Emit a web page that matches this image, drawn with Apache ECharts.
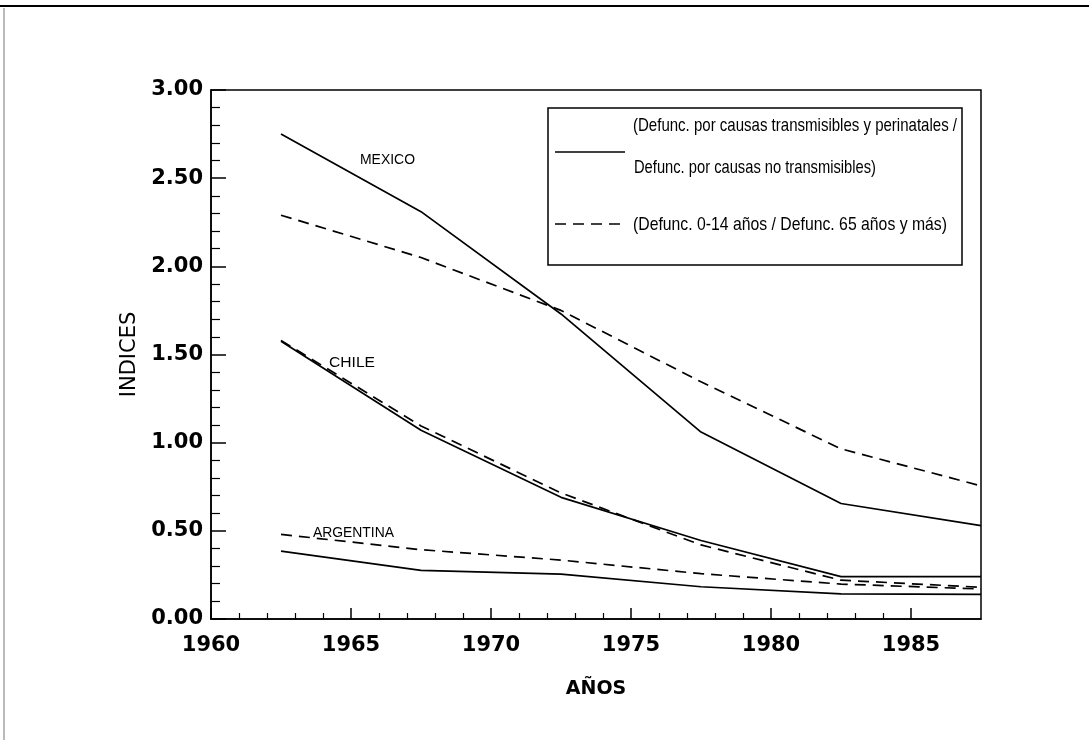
<!DOCTYPE html>
<html>
<head>
<meta charset="utf-8">
<script src="https://cdn.jsdelivr.net/npm/echarts@6/dist/echarts.min.js"></script>
<style>
  html, body { margin: 0; padding: 0; background: #fff; }
  #main { width: 1089px; height: 740px; }
</style>
</head>
<body>
<div id="main"></div>
<script>
// años de los puntos (quinquenios)
const years = [1962.5, 1967.5, 1972.5, 1977.5, 1982.5, 1987.5]

// defunc. transmisibles y perinatales / no transmisibles (linea continua)
const mexicoTransm = [2.75, 2.31, 1.73, 1.06, 0.655, 0.53]
const chileTransm = [1.575, 1.07, 0.69, 0.445, 0.24, 0.24]
const argentinaTransm = [0.385, 0.276, 0.255, 0.183, 0.143, 0.14]

// defunc. 0-14 / defunc. 65 y mas (linea discontinua)
const mexicoEdad = [2.29, 2.05, 1.75, 1.345, 0.965, 0.755]
const chileEdad = [1.58, 1.095, 0.715, 0.42, 0.22, 0.18]
const argentinaEdad = [0.48, 0.393, 0.334, 0.257, 0.198, 0.17]

const xMajorTicks = [1960, 1965, 1970, 1975, 1980, 1985]
const xMinorTicks = []
for (let y = 1961; y < 1985; y++) {
  if (y % 5 !== 0) xMinorTicks.push(y)
}
const yTickLabels = ['0.00', '0.50', '1.00', '1.50', '2.00', '2.50', '3.00']

const legendSolid = ['(Defunc. por causas transmisibles y perinatales /', 'Defunc. por causas no transmisibles)']
const legendDashed = '(Defunc. 0-14 años / Defunc. 65 años y más)'

const pairs = (vals) => years.map((y, i) => [y, vals[i]])

// medir texto para comprimirlo (la fuente original es condensada)
const ctx = document.createElement('canvas').getContext('2d')
function fitScale(str, font, width) {
  ctx.font = font
  return width / ctx.measureText(str).width
}

const legendFont = '19px "Liberation Sans", Arial, sans-serif'
const labelFont = '14px "Liberation Sans", Arial, sans-serif'

function scaledText(str, font, x, y, width) {
  return {
    type: 'text',
    x: x,
    y: y,
    scaleX: fitScale(str, font, width),
    style: {
      text: str,
      font: font,
      fill: '#000',
      verticalAlign: 'middle',
      textVerticalAlign: 'middle',
    },
  }
}

const dash = [11, 7]
function line(name, vals, dashed) {
  return {
    name: name,
    type: 'line',
    data: pairs(vals),
    showSymbol: false,
    silent: true,
    lineStyle: {
      color: '#000',
      width: 1.7,
      type: dashed ? dash : 'solid',
    },
  }
}

const myChart = echarts.init(document.getElementById('main'))

let option = {
  animation: false,
  backgroundColor: '#fff',
  textStyle: { fontFamily: '"DejaVu Sans", sans-serif' },
  grid: {
    left: 211,
    right: 108,
    top: 90,
    bottom: 121,
    show: true,
    borderColor: '#000',
    borderWidth: 1.5,
  },
  xAxis: [
    {
      type: 'value',
      min: 1960,
      max: 1987.5,
      interval: 5,
      name: 'AÑOS',
      nameLocation: 'middle',
      nameGap: 61,
      nameTextStyle: {
        fontFamily: '"DejaVu Sans", sans-serif',
        fontWeight: 'bold',
        fontSize: 19,
        color: '#000',
      },
      axisLine: { lineStyle: { color: '#000', width: 1.5 } },
      axisTick: {
        inside: true,
        length: 11,
        customValues: xMajorTicks,
        lineStyle: { color: '#000', width: 1.5 },
      },
      axisLabel: {
        customValues: xMajorTicks,
        margin: 16,
        fontFamily: '"DejaVu Sans", sans-serif',
        fontWeight: 'bold',
        fontSize: 21,
        color: '#000',
        formatter: (v) => String(v),
      },
      splitLine: { show: false },
    },
    {
      type: 'value',
      position: 'bottom',
      min: 1960,
      max: 1987.5,
      interval: 5,
      axisLine: { show: false },
      axisTick: {
        inside: true,
        length: 6,
        customValues: xMinorTicks,
        lineStyle: { color: '#000', width: 1.2 },
      },
      axisLabel: { show: false },
      splitLine: { show: false },
    },
  ],
  yAxis: {
    type: 'value',
    min: 0,
    max: 3,
    interval: 0.5,
    name: 'INDICES',
    nameLocation: 'middle',
    nameRotate: 90,
    nameGap: 70,
    nameTextStyle: {
      fontFamily: '"DejaVu Sans", sans-serif',
      fontSize: 21,
      color: '#000',
    },
    axisLine: { show: true, lineStyle: { color: '#000', width: 1.5 } },
    axisTick: {
      show: true,
      inside: true,
      length: 15,
      lineStyle: { color: '#000', width: 1.5 },
    },
    minorTick: {
      show: true,
      splitNumber: 5,
      length: 9,
      lineStyle: { color: '#000', width: 1.2 },
    },
    axisLabel: {
      margin: 8,
      fontFamily: '"DejaVu Sans", sans-serif',
      fontWeight: 'bold',
      fontSize: 21,
      color: '#000',
      formatter: (v) => yTickLabels[Math.round(v / 0.5)],
    },
    splitLine: { show: false },
  },
  series: [
    line('MEXICO transm.', mexicoTransm, false),
    line('MEXICO edad', mexicoEdad, true),
    line('CHILE transm.', chileTransm, false),
    line('CHILE edad', chileEdad, true),
    line('ARGENTINA transm.', argentinaTransm, false),
    line('ARGENTINA edad', argentinaEdad, true),
  ],
  graphic: [
    // marco de la pagina escaneada
    { type: 'line', shape: { x1: 0, y1: 6, x2: 1089, y2: 6 }, style: { stroke: '#000', lineWidth: 2 } },
    { type: 'line', shape: { x1: 4, y1: 8, x2: 4, y2: 740 }, style: { stroke: '#777', lineWidth: 1 } },
    // caja de la leyenda
    {
      type: 'rect',
      shape: { x: 548, y: 108, width: 414, height: 157 },
      style: { fill: '#fff', stroke: '#000', lineWidth: 1.5 },
    },
    { type: 'line', shape: { x1: 555, y1: 152, x2: 625, y2: 152 }, style: { stroke: '#000', lineWidth: 1.4 } },
    { type: 'line', shape: { x1: 555, y1: 224, x2: 627, y2: 224 }, style: { stroke: '#000', lineWidth: 1.4, lineDash: dash } },
    scaledText(legendSolid[0], legendFont, 633, 126, 324),
    scaledText(legendSolid[1], legendFont, 634, 168, 242),
    scaledText(legendDashed, legendFont, 633, 225, 314),
    // nombres de paises
    scaledText('MEXICO', labelFont, 360, 160, 55),
    scaledText('CHILE', labelFont, 329, 363, 46),
    scaledText('ARGENTINA', labelFont, 313, 533, 81),
  ],
}

myChart.setOption(option)
</script>
</body>
</html>
